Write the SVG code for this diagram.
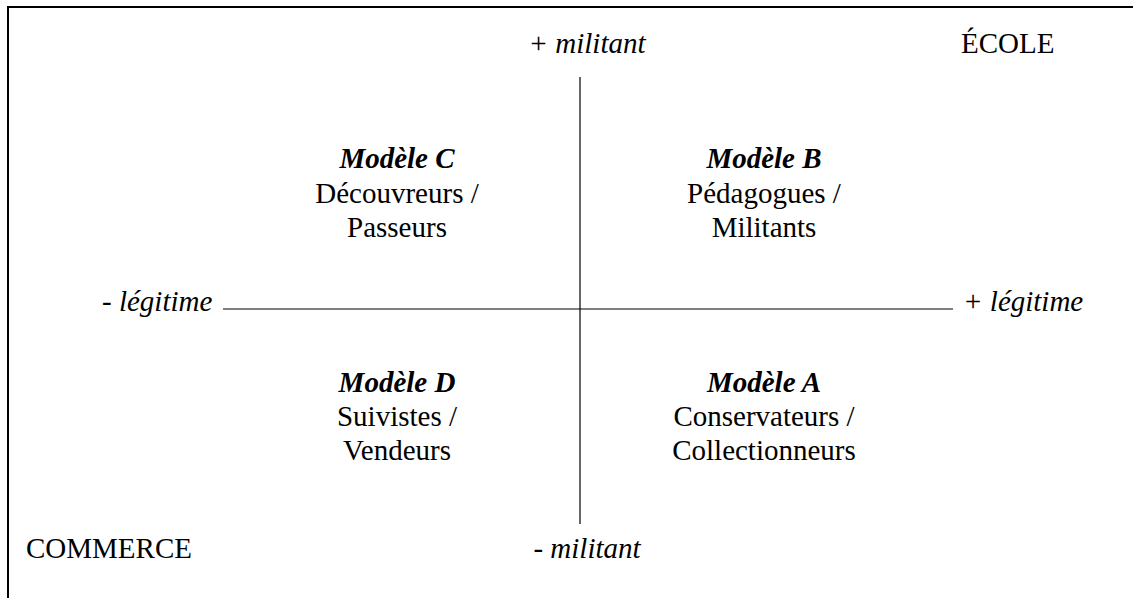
<svg xmlns="http://www.w3.org/2000/svg" width="1133" height="598" viewBox="0 0 1133 598">
<style>
.i{font-style:italic}
.t{font-style:italic;font-weight:bold}
.c{text-anchor:middle}
.ax{stroke:#000;stroke-width:1.2;fill:none}
.fr{stroke:#000;stroke-width:2;fill:none}
</style>
<rect width="1133" height="598" fill="#fff"/>
<path class="fr" d="M8,598 V7 H1133"/>
<g id="connectors">
<line class="ax" x1="580" y1="77" x2="580" y2="524"/>
<line class="ax" x1="223" y1="309" x2="953" y2="309"/>
</g>
<g font-family="Liberation Serif, Times New Roman, DejaVu Serif, serif" font-size="29" fill="#000">
<g id="axis-labels">
<text class="i c" x="587" y="53">+ militant</text>
<text class="i c" x="587" y="558">- militant</text>
<text class="i" x="102" y="311">- légitime</text>
<text class="i" x="963" y="311">+ légitime</text>
</g>
<g id="ecole"><text x="961" y="53">ÉCOLE</text></g>
<g id="commerce"><text x="26" y="558">COMMERCE</text></g>
<g id="modele-c">
<text class="t c" x="397" y="168">Modèle C</text>
<text class="c" x="397" y="203">Découvreurs /</text>
<text class="c" x="397" y="237">Passeurs</text>
</g>
<g id="modele-b">
<text class="t c" x="764" y="168">Modèle B</text>
<text class="c" x="764" y="203">Pédagogues /</text>
<text class="c" x="764" y="237">Militants</text>
</g>
<g id="modele-d">
<text class="t c" x="397" y="392">Modèle D</text>
<text class="c" x="397" y="426">Suivistes /</text>
<text class="c" x="397" y="460">Vendeurs</text>
</g>
<g id="modele-a">
<text class="t c" x="764" y="392">Modèle A</text>
<text class="c" x="764" y="426">Conservateurs /</text>
<text class="c" x="764" y="460">Collectionneurs</text>
</g>
</g>
</svg>
